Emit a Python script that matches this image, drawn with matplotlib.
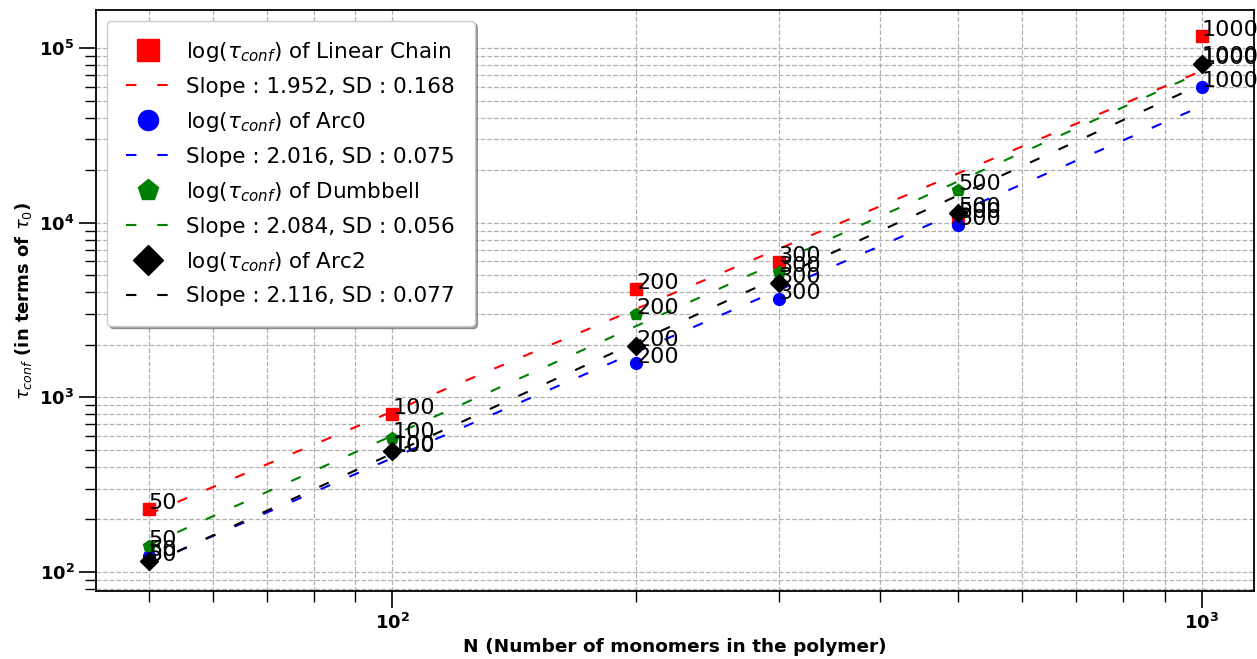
import numpy as np
import matplotlib
matplotlib.use("Agg")
import matplotlib.pyplot as plt

N = [50, 100, 200, 300, 500, 1000]
tau_linear = [230, 798, 4180, 5970, 10700, 117000]
tau_arc0 = [124, 483, 1567, 3656, 9750, 59700]
tau_dumbbell = [141, 581, 3000, 5220, 15500, 83000]
tau_arc2 = [116, 495, 1963, 4520, 11400, 80900]

names = ["Linear Chain", "Arc0", "Dumbbell", "Arc2"]
slopes = [1.952, 2.016, 2.084, 2.116]
sds = [0.168, 0.075, 0.056, 0.077]
colors = ["red", "blue", "green", "black"]
markers = ["s", "o", "p", "D"]
msizes = [9, 8.5, 9, 9]
series = [tau_linear, tau_arc0, tau_dumbbell, tau_arc2]

fig = plt.figure(figsize=(12.57, 6.59), dpi=100)
ax = fig.add_axes([0.0764, 0.103, 0.9216, 0.882])

x = np.array(N, dtype=float)
lx = np.log10(x)
for name, s, sd, c, m, ms, ys in zip(names, slopes, sds, colors, markers, msizes, series):
    ly = np.log10(np.array(ys, dtype=float))
    b = ly.mean() - s * lx.mean()
    ax.plot(x, ys, linestyle="none", marker=m, color=c, markersize=ms,
            label=r"log($\tau_{conf}$) of " + name, zorder=3)
    ax.plot(x, 10 ** (s * lx + b), linestyle=(0, (5, 10)), color=c, lw=1.5,
            label=f"Slope : {s:.3f}, SD : {sd:.3f}", zorder=2)
    for xi, yi in zip(N, ys):
        ax.text(xi, yi, str(xi), fontsize=16, color="black", zorder=4)

ax.set_xscale("log")
ax.set_yscale("log")
ax.grid(True, which="both", linestyle="--", color="#b0b0b0", lw=0.9)
ax.tick_params(axis="both", which="major", direction="out", length=12, width=1.2,
               labelsize=13)
ax.tick_params(axis="both", which="minor", direction="out", length=8, width=1.0)
for lab in ax.get_xticklabels() + ax.get_yticklabels():
    lab.set_fontweight("bold")
for sp in ax.spines.values():
    sp.set_linewidth(1.3)

ax.set_xlabel("N (Number of monomers in the polymer)", fontsize=13.3, fontweight="bold")
ax.set_ylabel(r"$\tau_{conf}$ (in terms of $\tau_0$)", fontsize=13, fontweight="bold")

ax.legend(loc="upper left", fontsize=15.5, markerscale=1.7, shadow=True,
          fancybox=True, framealpha=1.0, handlelength=2.0, borderpad=0.9,
          labelspacing=0.6, handletextpad=0.8)

fig.savefig("out.png", dpi=100)
